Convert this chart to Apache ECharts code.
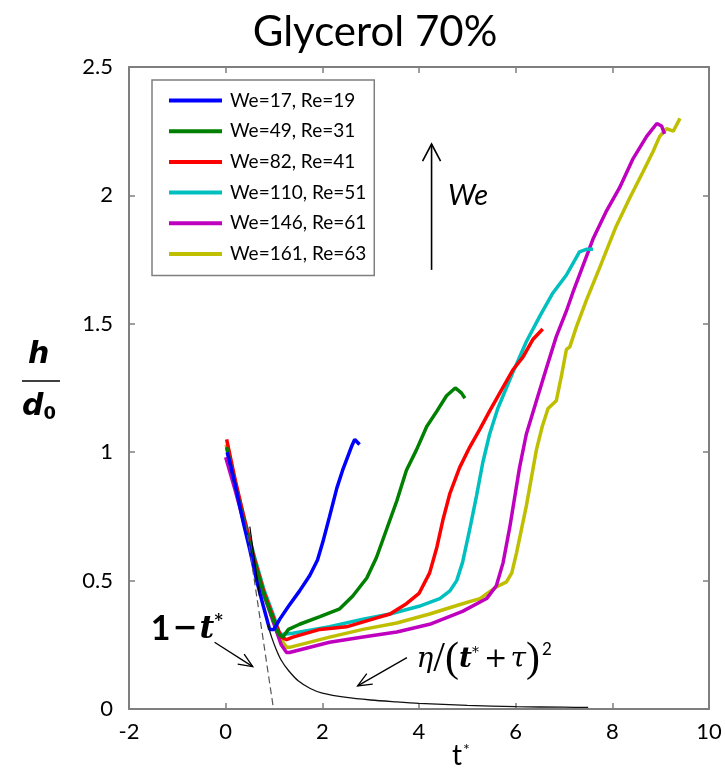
<!DOCTYPE html>
<html>
<head>
<meta charset="utf-8">
<script src="https://cdn.jsdelivr.net/npm/echarts@6/dist/echarts.min.js"></script>
<style>
  html, body { margin: 0; padding: 0; background: #fff; }
  #chart { width: 725px; height: 777px; }
</style>
</head>
<body>
<div id="chart"></div>
<script>
// Film thickness h/d0 versus dimensionless time t*, glycerol 70%
const seriesNames = ['We=17, Re=19', 'We=49, Re=31', 'We=82, Re=41', 'We=110, Re=51', 'We=146, Re=61', 'We=161, Re=63'];
const seriesColors = ['#0000ff', '#008000', '#ff0000', '#00bfbf', '#bf00bf', '#bfbf00'];

const xTicks = { min: -2, max: 10, interval: 2 };
const yTicks = { min: 0, max: 2.5, interval: 0.5 };

const we17 = [[0.03,1.00],[0.1,0.95],[0.2,0.87],[0.36,0.73],[0.5,0.62],[0.64,0.50],[0.78,0.40],[0.91,0.31],[1.0,0.31],[1.12,0.35],[1.3,0.40],[1.53,0.46],[1.74,0.52],[1.9,0.58],[2.01,0.65],[2.15,0.75],[2.3,0.86],[2.42,0.93],[2.52,0.98],[2.6,1.02],[2.67,1.05],[2.72,1.04],[2.77,1.03]];
const we49 = [[0.02,1.02],[0.2,0.87],[0.4,0.71],[0.6,0.57],[0.8,0.44],[1.0,0.34],[1.1,0.29],[1.18,0.28],[1.3,0.31],[1.53,0.33],[1.95,0.36],[2.36,0.39],[2.63,0.44],[2.92,0.51],[3.12,0.59],[3.33,0.70],[3.54,0.81],[3.74,0.93],[3.95,1.01],[4.16,1.10],[4.37,1.16],[4.57,1.22],[4.75,1.25],[4.82,1.24],[4.88,1.23],[4.95,1.21]];
const we82 = [[0.02,1.05],[0.2,0.89],[0.4,0.73],[0.6,0.58],[0.8,0.45],[1.0,0.35],[1.15,0.28],[1.26,0.27],[1.39,0.28],[1.95,0.31],[2.5,0.32],[3.04,0.35],[3.4,0.37],[3.74,0.41],[4.0,0.45],[4.22,0.53],[4.37,0.63],[4.5,0.74],[4.64,0.84],[4.84,0.94],[5.05,1.02],[5.26,1.09],[5.46,1.16],[5.67,1.23],[5.94,1.32],[6.15,1.37],[6.36,1.44],[6.56,1.48]];
const we110 = [[0.02,1.02],[0.2,0.88],[0.4,0.73],[0.6,0.59],[0.8,0.46],[1.0,0.36],[1.1,0.30],[1.16,0.29],[1.39,0.295],[2.15,0.32],[2.84,0.35],[3.4,0.37],[4.0,0.40],[4.43,0.43],[4.64,0.46],[4.78,0.50],[4.9,0.57],[5.05,0.70],[5.19,0.83],[5.32,0.96],[5.46,1.07],[5.63,1.17],[5.94,1.31],[6.22,1.43],[6.5,1.53],[6.77,1.62],[7.05,1.69],[7.32,1.78],[7.46,1.79],[7.6,1.79]];
const we146 = [[0.0,0.98],[0.2,0.85],[0.4,0.71],[0.6,0.57],[0.8,0.44],[1.0,0.33],[1.15,0.25],[1.26,0.22],[1.32,0.22],[2.15,0.26],[2.84,0.28],[3.54,0.30],[4.22,0.33],[4.9,0.38],[5.4,0.43],[5.6,0.48],[5.74,0.57],[5.88,0.71],[6.08,0.94],[6.22,1.07],[6.43,1.20],[6.64,1.33],[6.84,1.45],[7.05,1.55],[7.18,1.62],[7.6,1.83],[7.88,1.94],[8.15,2.03],[8.42,2.14],[8.71,2.23],[8.92,2.28],[9.02,2.27],[9.08,2.24]];
const we161 = [[0.01,1.03],[0.2,0.87],[0.4,0.72],[0.6,0.58],[0.8,0.45],[1.0,0.34],[1.15,0.27],[1.26,0.24],[1.32,0.24],[2.15,0.28],[2.84,0.31],[3.54,0.335],[4.22,0.37],[4.9,0.41],[5.26,0.43],[5.6,0.475],[5.81,0.495],[5.92,0.53],[6.02,0.61],[6.22,0.79],[6.43,1.01],[6.55,1.10],[6.67,1.17],[6.84,1.20],[6.95,1.30],[7.05,1.40],[7.12,1.41],[7.26,1.49],[7.46,1.59],[7.74,1.72],[8.08,1.88],[8.36,1.99],[8.63,2.09],[8.84,2.17],[8.98,2.23],[9.12,2.26],[9.26,2.25],[9.4,2.30]];
const seriesData = [we17, we49, we82, we110, we146, we161];

// Reference curves: linear drainage 1 - t* and the asymptotic law eta/(t*+tau)^2
const linearLaw = [[0.42,0.72],[0.99,0.0]];
const linearLawSolid = [[0.5,0.71],[0.7,0.44]];
const asymptoticLaw = [[0.87,0.33],[0.95,0.28],[1.05,0.23],[1.15,0.19],[1.3,0.15],[1.5,0.11],[1.75,0.08],[2.0,0.062],[2.5,0.045],[3.0,0.035],[3.5,0.028],[4.0,0.022],[5.0,0.014],[6.0,0.009],[7.0,0.007],[7.5,0.006]];

// Annotation anchors, in data units
const weArrow = { t: 4.26, from: 1.71, to: 2.20 };
const weLabel = [4.6, 2.0];
const linArrow = [[-0.23, 0.26], [0.56, 0.165]];
const linLabel = [-1.55, 0.31];
const asyArrow = [[3.75, 0.2], [2.73, 0.09]];
const asyLabel = [3.95, 0.19];

const axisGray = '#7f7f7f';
const font = 'Lato, "Open Sans", sans-serif';

const chart = echarts.init(document.getElementById('chart'), null, { renderer: 'canvas' });

const lineSeries = seriesNames.map((name, i) => ({
  name: name,
  type: 'line',
  data: seriesData[i],
  showSymbol: false,
  symbol: 'none',
  z: i === 0 ? 9 : 8 - i,
  lineStyle: { color: seriesColors[i], width: 3.5 },
  itemStyle: { color: seriesColors[i] },
  animation: false
}));

const refSeries = [
  { type: 'line', data: linearLaw, symbol: 'none', z: 20, lineStyle: { color: '#555', width: 1.2, type: [7, 4] }, animation: false, silent: true },
  { type: 'line', data: linearLawSolid, symbol: 'none', z: 20, lineStyle: { color: '#000', width: 1.2 }, animation: false, silent: true },
  { type: 'line', data: asymptoticLaw, symbol: 'none', z: 20, smooth: 0.3, lineStyle: { color: '#111', width: 1.3 }, animation: false, silent: true }
];

const baseAxisStyle = {
  axisLine: { show: true, onZero: false, lineStyle: { color: axisGray, width: 2 } },
  axisTick: { show: true, inside: true, length: 6, lineStyle: { color: axisGray, width: 1.5 } },
  splitLine: { show: false }
};

chart.setOption({
  backgroundColor: '#fff',
  animation: false,
  title: {
    text: 'Glycerol 70%',
    left: 370, top: 6, textAlign: 'center',
    textStyle: { fontFamily: font, fontSize: 42, fontWeight: 'normal', color: '#000' }
  },
  grid: { left: 129, right: 16, top: 67, bottom: 68, containLabel: false },
  legend: {
    data: seriesNames,
    orient: 'vertical',
    left: 152, top: 80,
    icon: 'rect',
    itemWidth: 53, itemHeight: 4,
    itemGap: 9.7,
    padding: [10, 8, 11, 17],
    borderColor: axisGray, borderWidth: 1.5,
    backgroundColor: '#fff',
    selectedMode: false,
    textStyle: { fontFamily: font, fontSize: 19, color: '#000', lineHeight: 21, padding: [0, 0, 0, 3] }
  },
  xAxis: [
    Object.assign({ type: 'value', position: 'bottom', min: xTicks.min, max: xTicks.max, interval: xTicks.interval,
      axisLabel: { fontFamily: font, fontSize: 22, color: '#000', margin: 12 } }, baseAxisStyle),
    Object.assign({ type: 'value', position: 'top', min: xTicks.min, max: xTicks.max, interval: xTicks.interval,
      axisLabel: { show: false } }, baseAxisStyle)
  ],
  yAxis: [
    Object.assign({ type: 'value', position: 'left', min: yTicks.min, max: yTicks.max, interval: yTicks.interval,
      axisLabel: { fontFamily: font, fontSize: 22, color: '#000', margin: 16 } }, baseAxisStyle),
    Object.assign({ type: 'value', position: 'right', min: yTicks.min, max: yTicks.max, interval: yTicks.interval,
      axisLabel: { show: false } }, baseAxisStyle)
  ],
  series: lineSeries.concat(refSeries)
});

// Annotations placed from data coordinates
function px(p) { return chart.convertToPixel({ xAxisIndex: 0, yAxisIndex: 0 }, p); }

function arrowHead(tip, from, len, spread) {
  const dx = tip[0] - from[0], dy = tip[1] - from[1];
  const d = Math.hypot(dx, dy);
  const ux = dx / d, uy = dy / d;
  const bx = tip[0] - ux * len, by = tip[1] - uy * len;
  return [[bx - uy * spread, by + ux * spread], tip, [bx + uy * spread, by - ux * spread]];
}

function arrow(fromData, toData, len, spread, width) {
  const a = px(fromData), b = px(toData);
  return [
    { type: 'line', shape: { x1: a[0], y1: a[1], x2: b[0], y2: b[1] }, style: { stroke: '#000', lineWidth: width }, z: 50 },
    { type: 'polyline', shape: { points: arrowHead(b, a, len, spread) }, style: { stroke: '#000', lineWidth: width, fill: null }, z: 50 }
  ];
}

const graphics = [];
graphics.push(...arrow([weArrow.t, weArrow.from], [weArrow.t, weArrow.to], 17, 9, 1.6));
graphics.push(...arrow(linArrow[0], linArrow[1], 14, 6, 1.3));
graphics.push(...arrow(asyArrow[0], asyArrow[1], 14, 6, 1.3));

const wePos = px(weLabel);
graphics.push({ type: 'text', x: wePos[0], y: wePos[1], z: 50,
  style: { text: 'We', fontFamily: font, fontSize: 29, fontStyle: 'italic', fill: '#000', textVerticalAlign: 'middle' } });

const linPos = px(linLabel);
graphics.push({ type: 'text', x: linPos[0], y: linPos[1], z: 50,
  style: {
    text: '{a|1}{m|−}{t|t}{s|*}',
    textVerticalAlign: 'middle',
    rich: {
      a: { fontFamily: font, fontSize: 34, fontWeight: 'bold', fill: '#000' },
      m: { fontFamily: '"DejaVu Serif", serif', fontSize: 30, fontWeight: 'bold', fill: '#000', padding: [0, 2, 0, 2] },
      t: { fontFamily: '"DejaVu Serif", serif', fontSize: 32, fontWeight: 'bold', fontStyle: 'italic', fill: '#000' },
      s: { fontFamily: '"DejaVu Serif", serif', fontSize: 16, fontWeight: 'bold', fill: '#000', verticalAlign: 'top', padding: [0, 0, 14, 0] }
    }
  } });

const asyPos = px(asyLabel);
graphics.push({ type: 'text', x: asyPos[0], y: asyPos[1], z: 50,
  style: {
    text: '{e|η}{p|/(}{t|t}{s|*}{o|+}{e|τ}{p|)}{q|2}',
    textVerticalAlign: 'middle',
    rich: {
      e: { fontFamily: '"DejaVu Serif", serif', fontSize: 28, fontStyle: 'italic', fill: '#000' },
      p: { fontFamily: '"Liberation Serif", serif', fontSize: 42, fill: '#000' },
      t: { fontFamily: '"DejaVu Serif", serif', fontSize: 28, fontStyle: 'italic', fontWeight: 'bold', fill: '#000' },
      s: { fontFamily: '"DejaVu Serif", serif', fontSize: 14, fill: '#000', padding: [0, 3, 14, 0] },
      o: { fontFamily: '"DejaVu Serif", serif', fontSize: 28, fill: '#000', padding: [0, 3, 0, 2] },
      q: { fontFamily: font, fontSize: 17, fill: '#000', padding: [0, 0, 22, 2] }
    }
  } });

// Axis titles: h/d0 as a stacked fraction and t* below the x axis
graphics.push({ type: 'text', left: 28, top: 340, z: 50,
  style: { text: 'h', fontFamily: '"DejaVu Sans", sans-serif', fontSize: 30, fontStyle: 'italic', fontWeight: 'bold', fill: '#000' } });
graphics.push({ type: 'line', shape: { x1: 22, y1: 381, x2: 60, y2: 381 }, style: { stroke: '#000', lineWidth: 1.6 }, z: 50 });
graphics.push({ type: 'text', left: 22, top: 392, z: 50,
  style: { text: '{d|d}{z|0}', rich: {
    d: { fontFamily: '"DejaVu Sans", sans-serif', fontSize: 30, fontStyle: 'italic', fontWeight: 'bold', fill: '#000' },
    z: { fontFamily: '"DejaVu Sans", sans-serif', fontSize: 18, fontWeight: 'bold', fill: '#000', padding: [14, 0, 0, 0] }
  } } });
graphics.push({ type: 'text', left: 452, top: 742, z: 50,
  style: { text: '{t|t}{s|*}', rich: {
    t: { fontFamily: font, fontSize: 28, fill: '#000' },
    s: { fontFamily: font, fontSize: 16, fill: '#000', padding: [0, 0, 12, 1] }
  } } });

chart.setOption({ graphic: graphics });
</script>
</body>
</html>
